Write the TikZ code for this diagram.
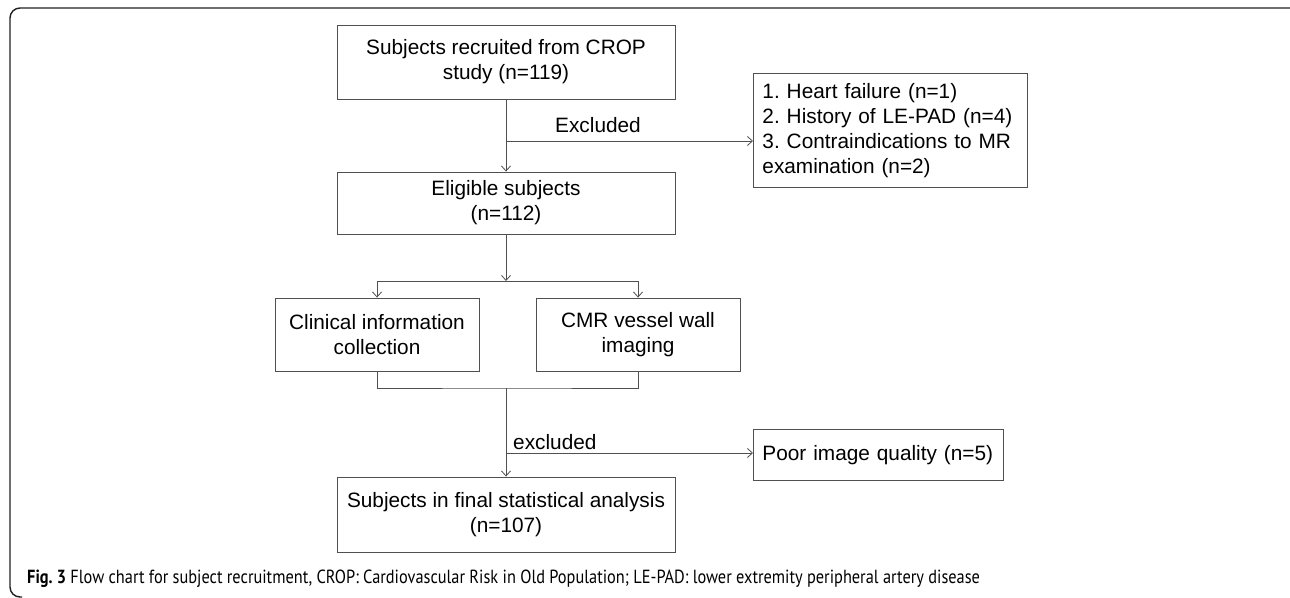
\documentclass[tikz,border=0pt]{standalone}
\usepackage{fontspec}
\setmainfont{Liberation Sans}
\newfontfamily\capfont[FakeStretch=0.86]{PT Sans}
\usetikzlibrary{arrows.meta}
\definecolor{lineGray}{HTML}{505050}
\definecolor{frameGray}{HTML}{202020}
\frenchspacing

\begin{document}
\begin{tikzpicture}[x=1pt, y=-1pt,
    box/.style={draw=lineGray, line width=0.9pt, inner sep=0pt, align=center, font=\fontsize{20.8}{24.8}\selectfont},
    listbox/.style={box, align=left, inner xsep=9pt, anchor=north west},
    arr/.style={draw=lineGray, line width=0.9pt, -{Straight Barb[length=5pt, width=9pt, line width=0.8pt]}},
    link/.style={draw=lineGray, line width=0.9pt}]

        \useasboundingbox (0,0) rectangle (1290,597);
        \draw[frameGray, line width=1.4pt, rounded corners=10pt] (1292,8) -- (10,8) -- (10,597) -- (22,597);

        \node (p1) [box, minimum width=338pt, minimum height=74pt] at (506,62) {Subjects recruited from CROP \\ study (n=119)};

        \node (p2) [box, minimum width=338pt, minimum height=62pt] at (506,203) {Eligible subjects \\ (n=112)};

        \node (ex1) [listbox, minimum width=274pt, minimum height=114pt, text width=256pt] at (753,73) {1. Heart failure (n=1) \\ 2. History of LE-PAD (n=4) \\ 3. Contraindications to MR \\ examination (n=2)};

        \node (p3a) [box, minimum width=204pt, minimum height=73pt] at (377,334.5) {Clinical information \\ collection};

        \node (p3b) [box, minimum width=204pt, minimum height=73pt] at (638,334.5) {CMR vessel wall \\ imaging};

        \node (ex2) [listbox, minimum width=250pt, minimum height=51pt, text width=232pt] at (753,429) {Poor image quality (n=5)};

        \node (p4) [box, minimum width=338pt, minimum height=75pt] at (506,514.5) {Subjects in final statistical analysis \\ (n=107)};

        \coordinate (c1) at (506,141);
        \coordinate (c2) at (506,281);
        \coordinate (c3) at (506,388);
        \coordinate (c4) at (506,453);

        \draw[arr] (p1) -- (p2);
        \draw[arr] (c1) -- (ex1.west |- c1);
        \node (t1) [font=\fontsize{20.8}{24.8}\selectfont] at (598,125) {Excluded};

        \draw[arr] (p2) -- (c2);
        \draw[arr] (c2) -| (p3a);
        \draw[arr] (c2) -| (p3b);

        \draw[link] (p3a.south) |- (c3) -| (p3b.south);
        \draw[arr] (c3) -- (p4);
        \draw[arr] (c4) -- (ex2.west |- c4);
        \node (t2) [anchor=west, inner sep=0pt, font=\fontsize{20.8}{24.8}\selectfont] at (513,442) {excluded};

        \node (cap) [anchor=base west, inner sep=0pt, font=\capfont\fontsize{19}{22}\selectfont] at (27,583) {\textbf{Fig. 3} Flow chart for subject recruitment, CROP: Cardiovascular Risk in Old Population; LE-PAD: lower extremity peripheral artery disease};
    \end{tikzpicture}
\end{document}
